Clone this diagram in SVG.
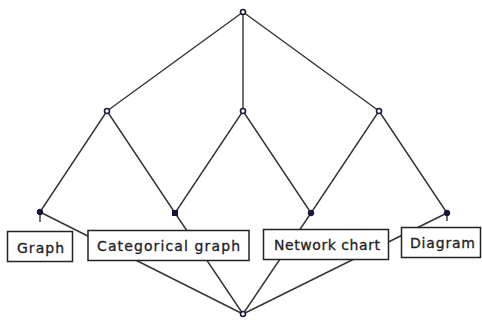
<svg xmlns="http://www.w3.org/2000/svg" width="482" height="322" viewBox="0 0 482 322">
<style>
.e{stroke:#333;stroke-width:1.4;fill:none}
.o{fill:#fff;stroke:#1a1a40;stroke-width:1.6}
.f{fill:#14143c;stroke:#14143c;stroke-width:1}
.b{fill:#fff;stroke:#222;stroke-width:1.5}
.t{font-family:"DejaVu Sans",Verdana,sans-serif;font-size:14px;fill:#222;stroke:#222;stroke-width:0.3}
</style>
<rect width="482" height="322" fill="#fff"/>
<g id="connectors">
<line class="e" x1="243" y1="12" x2="107" y2="111"/>
<line class="e" x1="243" y1="12" x2="243" y2="111"/>
<line class="e" x1="243" y1="12" x2="379" y2="111"/>
<line class="e" x1="107" y1="111" x2="40" y2="212"/>
<line class="e" x1="107" y1="111" x2="175" y2="213"/>
<line class="e" x1="243" y1="111" x2="175" y2="213"/>
<line class="e" x1="243" y1="111" x2="311" y2="213"/>
<line class="e" x1="379" y1="111" x2="311" y2="213"/>
<line class="e" x1="379" y1="111" x2="447" y2="213"/>
<line class="e" x1="40" y1="212" x2="243" y2="314"/>
<line class="e" x1="175" y1="213" x2="243" y2="314"/>
<line class="e" x1="311" y1="213" x2="243" y2="314"/>
<line class="e" x1="447" y1="213" x2="243" y2="314"/>
<line class="e" x1="40" y1="212" x2="40" y2="222"/>
<line class="e" x1="447" y1="213" x2="447" y2="221"/>
</g>
<g id="n-top"><circle class="o" cx="243" cy="12" r="2.5"/></g>
<g id="n-m1"><circle class="o" cx="107" cy="111" r="2.5"/></g>
<g id="n-m2"><circle class="o" cx="243" cy="111" r="2.5"/></g>
<g id="n-m3"><circle class="o" cx="379" cy="111" r="2.5"/></g>
<g id="n-l1"><circle class="f" cx="40" cy="212" r="2.8"/></g>
<g id="n-l2"><rect class="f" x="172.5" y="210.5" width="5" height="5"/></g>
<g id="n-l3"><circle class="f" cx="311" cy="213" r="2.8"/></g>
<g id="n-l4"><circle class="f" cx="447" cy="213" r="2.8"/></g>
<g id="n-bottom"><circle class="o" cx="243" cy="314" r="2.5"/></g>
<g id="lbl-graph"><rect class="b" x="7.5" y="231.5" width="65" height="30"/><text class="t" x="17" y="253" textLength="47" lengthAdjust="spacing">Graph</text></g>
<g id="lbl-categorical"><rect class="b" x="88" y="230.5" width="161" height="30"/><text class="t" x="97" y="251" textLength="143" lengthAdjust="spacing">Categorical graph</text></g>
<g id="lbl-network"><rect class="b" x="263.5" y="229.5" width="125" height="30"/><text class="t" x="274" y="250" textLength="106" lengthAdjust="spacing">Network chart</text></g>
<g id="lbl-diagram"><rect class="b" x="401.5" y="227.5" width="79" height="30"/><text class="t" x="410" y="248" textLength="65" lengthAdjust="spacing">Diagram</text></g>
</svg>
